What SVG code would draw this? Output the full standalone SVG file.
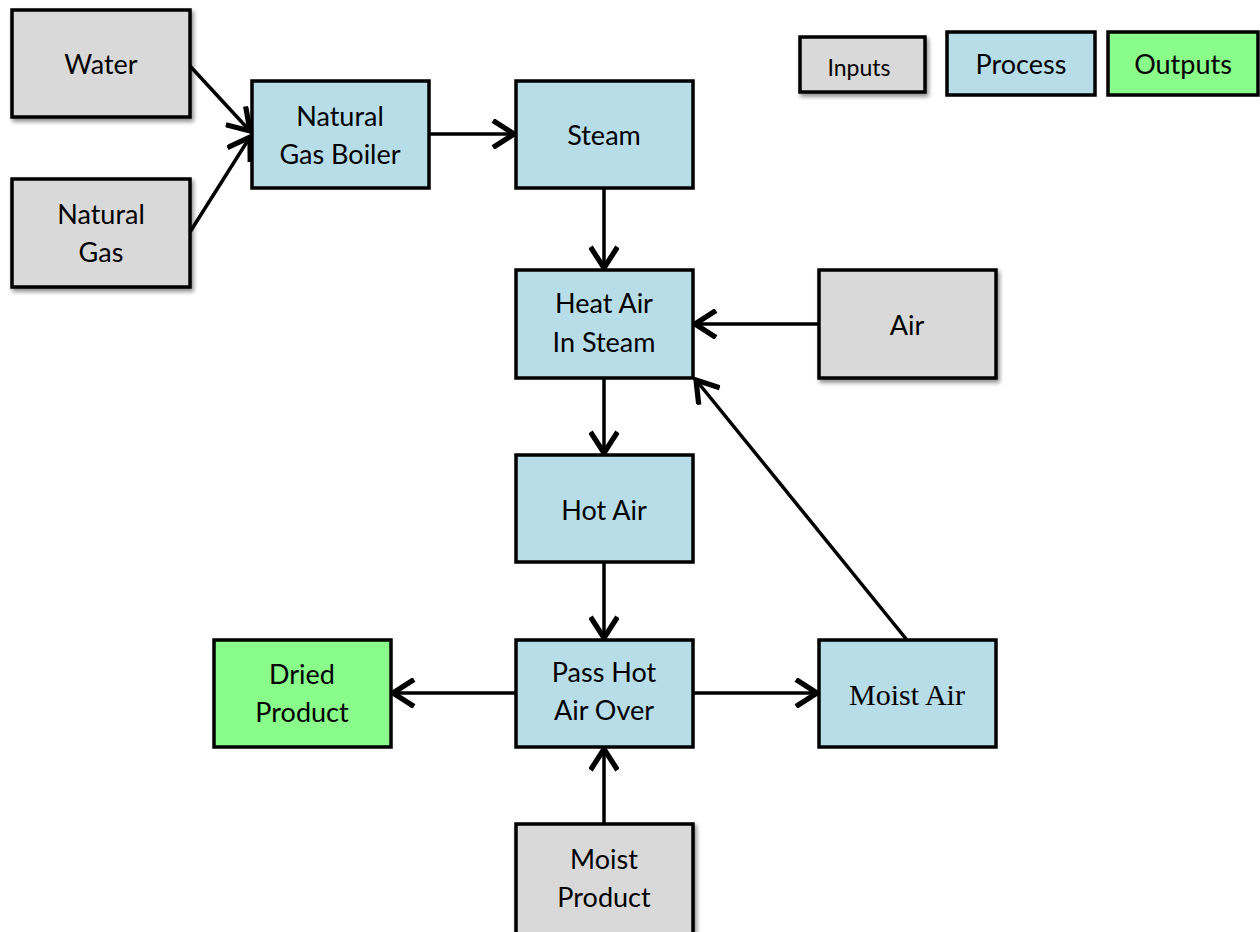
<svg xmlns="http://www.w3.org/2000/svg" width="1260" height="932" viewBox="0 0 1260 932">
<defs>
<style>
.inp{fill:#d9d9d9;stroke:#000;stroke-width:3.5;filter:url(#sh)}
.proc{fill:#b7dde8;stroke:#000;stroke-width:3.5}
.out{fill:#8afc8a;stroke:#000;stroke-width:3.5}
text{font-family:Lato,"Liberation Sans",sans-serif;font-size:27px;fill:#000;text-anchor:middle}
.serif{font-family:"Liberation Serif",serif;font-size:30px}
.conn line{stroke:#000;stroke-width:3.5;fill:none}
</style>
<filter id="sh" x="-10%" y="-10%" width="130%" height="130%">
<feGaussianBlur in="SourceAlpha" stdDeviation="2"/>
<feOffset dx="2" dy="3" result="b"/>
<feComponentTransfer><feFuncA type="linear" slope="0.45"/></feComponentTransfer>
<feMerge><feMergeNode/><feMergeNode in="SourceGraphic"/></feMerge>
</filter>
<marker id="arr" markerUnits="userSpaceOnUse" markerWidth="30" markerHeight="30" refX="18" refY="10" viewBox="0 0 20 20" orient="auto">
<path d="M4,1 L18,10 L4,19" fill="none" stroke="#000" stroke-width="3.5" stroke-linejoin="miter"/>
</marker>
</defs>
<g class="conn">
<line x1="190" y1="66" x2="250" y2="131" marker-end="url(#arr)"/>
<line x1="190" y1="232" x2="250" y2="137" marker-end="url(#arr)"/>
<line x1="429" y1="134" x2="514" y2="134" marker-end="url(#arr)"/>
<line x1="604" y1="188" x2="604" y2="268" marker-end="url(#arr)"/>
<line x1="819" y1="324" x2="695" y2="324" marker-end="url(#arr)"/>
<line x1="604" y1="378" x2="604" y2="453" marker-end="url(#arr)"/>
<line x1="604" y1="562" x2="604" y2="638" marker-end="url(#arr)"/>
<line x1="516" y1="693" x2="393" y2="693" marker-end="url(#arr)"/>
<line x1="693" y1="693" x2="817" y2="693" marker-end="url(#arr)"/>
<line x1="907" y1="640" x2="696" y2="380" marker-end="url(#arr)"/>
<line x1="604" y1="824" x2="604" y2="749" marker-end="url(#arr)"/>
</g>
<g id="water"><rect class="inp" x="12" y="10" width="178" height="107"/><text x="101" y="74">Water</text></g>
<g id="natgas"><rect class="inp" x="12" y="179" width="178" height="108"/><text x="101" y="224">Natural</text><text x="101" y="262">Gas</text></g>
<g id="boiler"><rect class="proc" x="252" y="81" width="177" height="107"/><text x="340" y="126">Natural</text><text x="340" y="164">Gas Boiler</text></g>
<g id="steam"><rect class="proc" x="516" y="81" width="177" height="107"/><text x="604" y="145">Steam</text></g>
<g id="heat"><rect class="proc" x="516" y="270" width="177" height="108"/><text x="604" y="313">Heat Air</text><text x="604" y="352">In Steam</text></g>
<g id="air"><rect class="inp" x="819" y="270" width="177" height="108"/><text x="907" y="335">Air</text></g>
<g id="hotair"><rect class="proc" x="516" y="455" width="177" height="107"/><text x="604" y="520">Hot Air</text></g>
<g id="pass"><rect class="proc" x="516" y="640" width="177" height="107"/><text x="604" y="682">Pass Hot</text><text x="604" y="720">Air Over</text></g>
<g id="dried"><rect class="out" x="214" y="640" width="177" height="107"/><text x="302" y="684">Dried</text><text x="302" y="722">Product</text></g>
<g id="moistair"><rect class="proc" x="819" y="640" width="177" height="107"/><text class="serif" x="907" y="705">Moist Air</text></g>
<g id="moistprod"><rect class="inp" x="516" y="824" width="177" height="120"/><text x="604" y="869">Moist</text><text x="604" y="907">Product</text></g>
<g id="legend-inputs"><rect class="inp" x="800" y="37" width="125" height="55"/><text x="859" y="76" style="font-size:23px">Inputs</text></g>
<g id="legend-process"><rect class="proc" x="947" y="32" width="148" height="63"/><text x="1021" y="74">Process</text></g>
<g id="legend-outputs"><rect class="out" x="1108" y="32" width="150" height="63"/><text x="1183" y="74">Outputs</text></g>
</svg>
